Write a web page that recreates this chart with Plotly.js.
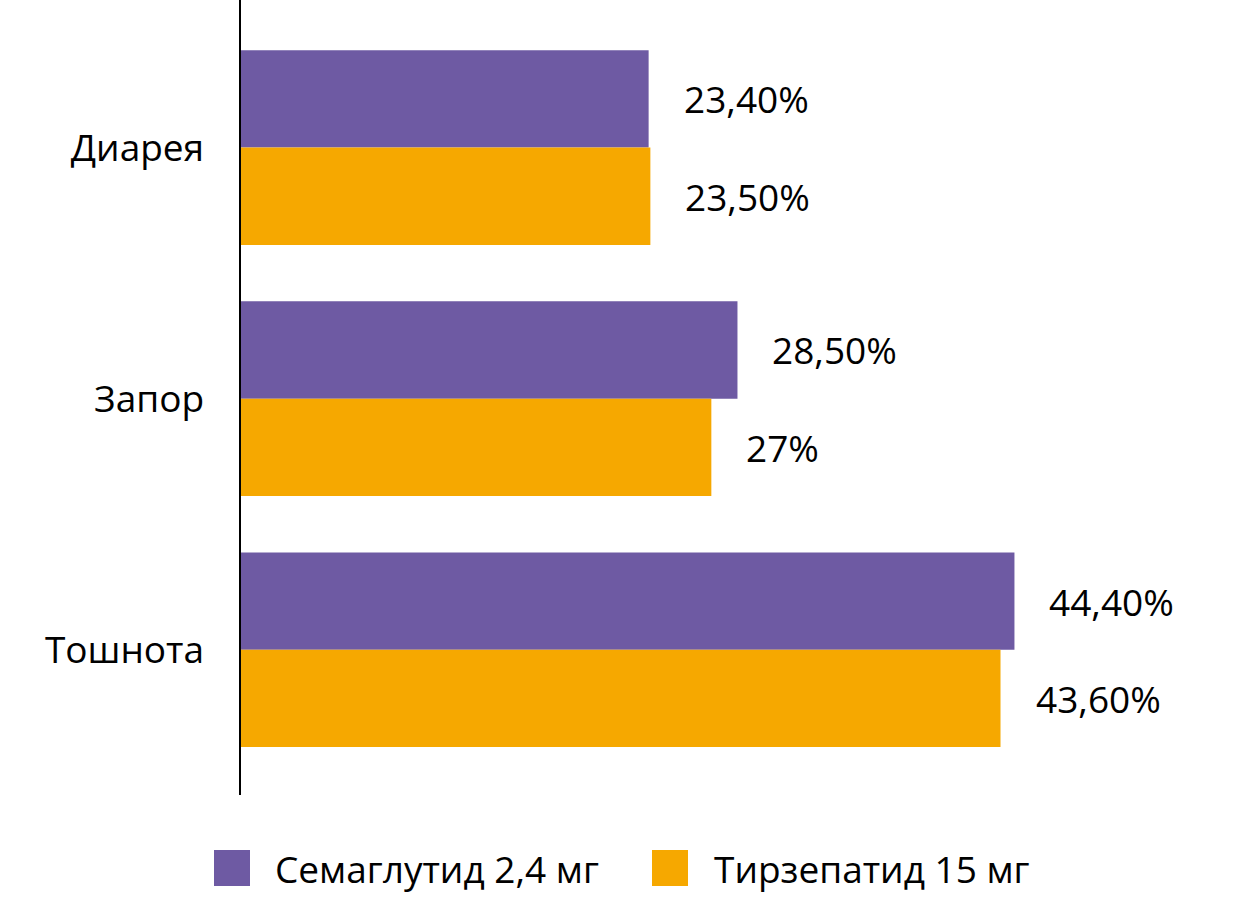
<!DOCTYPE html>
<html>
<head>
<meta charset="utf-8">
<script src="https://cdn.plot.ly/plotly-3.0.1.min.js"></script>
<style>
  html, body { margin: 0; padding: 0; background: #ffffff; }
  #chart { width: 1248px; height: 897px; }
</style>
</head>
<body>
<div id="chart"></div>
<script>
// Side effects, percentage of patients
const categories = ["Диарея", "Запор", "Тошнота"];
const semaglutide = [23.4, 28.5, 44.4];
const tirzepatide = [23.5, 27.0, 43.6];
const semaglutideLabels = ["23,40%", "28,50%", "44,40%"];
const tirzepatideLabels = ["23,50%", "27%", "43,60%"];
const seriesNames = ["Семаглутид 2,4 мг", "Тирзепатид 15 мг"];
const seriesColors = ["#6E5AA3", "#F6A800"];

const W = 1248, H = 897;
const M = { l: 241, r: 0, t: 0, b: 102 };
const plotW = W - M.l - M.r;
const plotH = H - M.t - M.b;
const FONT = "Open Sans, Noto Sans, sans-serif";
const FS = 37;

// pixel -> paper coordinate helpers for the custom legend
const px = X => (X - M.l) / plotW;
const py = Y => (H - M.b - Y) / plotH;

const traces = [
  { type: "bar", orientation: "h", name: seriesNames[0], y: categories, x: semaglutide,
    marker: { color: seriesColors[0] }, hoverinfo: "skip" },
  { type: "bar", orientation: "h", name: seriesNames[1], y: categories, x: tirzepatide,
    marker: { color: seriesColors[1] }, hoverinfo: "skip" }
];

const annotations = [];
const groupW = 0.775;
const barW = groupW / 2;
categories.forEach((c, i) => {
  annotations.push({ x: semaglutide[i], y: i - barW / 2, xref: "x", yref: "y",
    text: semaglutideLabels[i], showarrow: false, xanchor: "left", yanchor: "middle",
    xshift: 33, font: { family: FONT, size: FS, color: "#000" } });
  annotations.push({ x: tirzepatide[i], y: i + barW / 2, xref: "x", yref: "y",
    text: tirzepatideLabels[i], showarrow: false, xanchor: "left", yanchor: "middle",
    xshift: 33, font: { family: FONT, size: FS, color: "#000" } });
});

// legend: large square swatches with labels underneath the plot
const legendItems = [
  { sx: 214, tx: 273 },
  { sx: 652, tx: 712 }
];
const shapes = [];
legendItems.forEach((it, k) => {
  shapes.push({ type: "rect", xref: "paper", yref: "paper",
    x0: px(it.sx), x1: px(it.sx + 36), y0: py(886), y1: py(850),
    fillcolor: seriesColors[k], line: { width: 0 } });
  annotations.push({ xref: "paper", yref: "paper", x: px(it.tx), y: py(868),
    text: seriesNames[k], showarrow: false, xanchor: "left", yanchor: "middle",
    font: { family: FONT, size: FS, color: "#000" } });
});

const layout = {
  width: W, height: H,
  margin: M,
  paper_bgcolor: "#ffffff",
  plot_bgcolor: "#ffffff",
  barmode: "group",
  bargap: 1 - groupW,
  bargroupgap: 0,
  showlegend: false,
  font: { family: FONT, size: FS, color: "#000" },
  xaxis: { range: [0, plotW / 17.42], visible: false, fixedrange: true },
  yaxis: {
    type: "category",
    categoryorder: "array", categoryarray: categories,
    range: [2.579, -0.588],
    showline: true, linecolor: "#000", linewidth: 2.5,
    showgrid: false, zeroline: false, ticks: "",
    ticklabelstandoff: 27,
    tickfont: { family: FONT, size: FS, color: "#000" },
    fixedrange: true
  },
  shapes: shapes,
  annotations: annotations
};

Plotly.newPlot("chart", traces, layout, { displayModeBar: false, staticPlot: true });
</script>
</body>
</html>
